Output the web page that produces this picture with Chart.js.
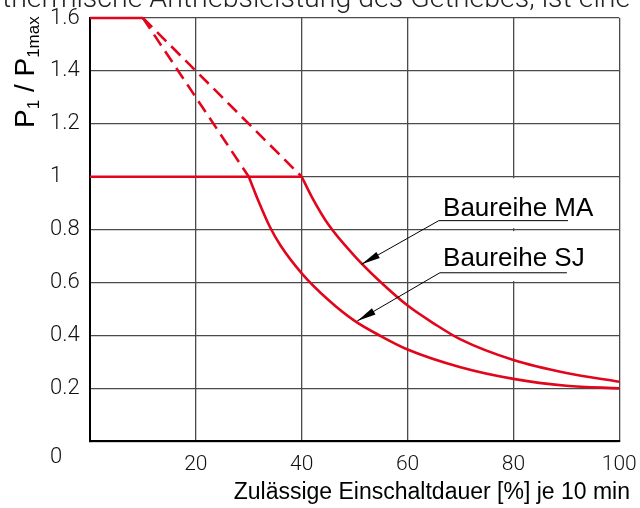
<!DOCTYPE html>
<html lang="de">
<head>
    <meta charset="UTF-8">
    <title>Einschaltdauer</title>
    <script src="https://cdn.jsdelivr.net/npm/chart.js@4/dist/chart.umd.min.js"></script>
    <style>
        html, body {margin: 0;padding: 0;background: #fff;overflow: hidden;}
        #box {position: relative;width: 640px;height: 508px;}
    </style>
    <script>
        // Werte
        const topX = [0, 10];
        const topY = [1.6, 1.6];
        const baseX = [0, 40];
        const baseY = [1.0, 1.0];
        const maDashX = [10, 40];
        const maDashY = [1.6, 1.0];
        const sjDashX = [10, 30];
        const sjDashY = [1.6, 1.0];
        const maX = [40, 42, 45, 50, 55, 60, 65, 70, 80, 90, 100];
        const maY = [1.0, 0.92, 0.82, 0.7, 0.6, 0.513, 0.445, 0.385, 0.307, 0.258, 0.225];
        const sjX = [30, 32, 34, 36, 40, 45, 50, 55, 60, 70, 80, 90, 100];
        const sjY = [1.0, 0.9, 0.81, 0.74, 0.635, 0.535, 0.455, 0.397, 0.347, 0.28, 0.236, 0.21, 0.2];
        const xTicks = [20, 40, 60, 80, 100];
        const yTicks = [0, 0.2, 0.4, 0.6, 0.8, 1, 1.2, 1.4, 1.6];

        const labels = [
            {text: 'Baureihe MA', x: 66.7, y: 0.851, lineY: 0.834, lineX1: 65.9, lineX2: 90.3, tipX: 51.3, tipY: 0.669},
            {text: 'Baureihe SJ', x: 66.7, y: 0.663, lineY: 0.637, lineX1: 66.1, lineX2: 90.1, tipX: 50.5, tipY: 0.455}
        ];

        const RED = '#e2061c';

        function pts(xs, ys) {
            return xs.map((x, i) => ({x: x, y: ys[i]}));
        }

        function ds(xs, ys, dashed) {
            return {
                data: pts(xs, ys),
                borderColor: RED,
                borderWidth: 2.6,
                borderDash: dashed ? [13, 7] : [],
                pointRadius: 0,
                cubicInterpolationMode: 'monotone',
                clip: 5
            };
        }

        // Lücke in der Gitterlinie bei 80 hinter der Beschriftung
        const gapPlugin = {
            id: 'gap',
            beforeDatasetsDraw(chart) {
                const ctx = chart.ctx, xs = chart.scales.x, ys = chart.scales.y;
                const px = xs.getPixelForValue(80);
                ctx.save();
                ctx.fillStyle = '#fff';
                const a = ys.getPixelForValue(1.0), b = ys.getPixelForValue(0.8), c = ys.getPixelForValue(0.6);
                ctx.fillRect(px - 2, a + 1.5, 4, b - a - 3);
                ctx.fillRect(px - 2, b + 1.5, 4, c - b - 3);
                ctx.restore();
            }
        };

        const textPlugin = {
            id: 'texts',
            afterDraw(chart) {
                const ctx = chart.ctx, xs = chart.scales.x, ys = chart.scales.y;
                ctx.save();

                // Beschriftungen mit Pfeilen
                labels.forEach(l => {
                    const x1 = xs.getPixelForValue(l.lineX1), x2 = xs.getPixelForValue(l.lineX2);
                    const ly = ys.getPixelForValue(l.lineY);
                    const tx = xs.getPixelForValue(l.tipX), ty = ys.getPixelForValue(l.tipY);
                    ctx.strokeStyle = '#000';
                    ctx.lineWidth = 1;
                    ctx.beginPath();
                    ctx.moveTo(x2, ly);
                    ctx.lineTo(x1, ly);
                    ctx.lineTo(tx, ty);
                    ctx.stroke();
                    const ang = Math.atan2(ly - ty, x1 - tx);
                    const len = 19, w = 3.5;
                    const bx = tx + Math.cos(ang) * len, by = ty + Math.sin(ang) * len;
                    ctx.fillStyle = '#000';
                    ctx.beginPath();
                    ctx.moveTo(tx, ty);
                    ctx.lineTo(bx - Math.sin(ang) * w, by + Math.cos(ang) * w);
                    ctx.lineTo(bx + Math.sin(ang) * w, by - Math.cos(ang) * w);
                    ctx.closePath();
                    ctx.fill();
                    ctx.font = '26px "Liberation Sans", Arial, sans-serif';
                    ctx.textAlign = 'left';
                    ctx.textBaseline = 'alphabetic';
                    ctx.fillText(l.text, xs.getPixelForValue(l.x), ys.getPixelForValue(l.y));
                });

                // x-Achsentitel
                ctx.fillStyle = '#000';
                ctx.font = '23px "Liberation Sans", Arial, sans-serif';
                ctx.textAlign = 'right';
                ctx.fillText('Zulässige Einschaltdauer [%] je 10 min', 630, 499);

                // abgeschnittene Zeile darüber
                ctx.font = '300 28.5px Roboto, sans-serif';
                ctx.textAlign = 'left';
                ctx.fillStyle = '#222';
                ctx.fillText('thermische Antriebsleistung des Getriebes, ist eine', 2, 7);

                // y-Achsentitel P1 / P1max
                ctx.translate(34, 128);
                ctx.rotate(-Math.PI / 2);
                ctx.fillStyle = '#000';
                ctx.textAlign = 'left';
                const big = '28px "Liberation Sans", Arial, sans-serif';
                const small = '17px "Liberation Sans", Arial, sans-serif';
                let pos = 0;
                [['P', big, 0], ['1', small, 5], [' / ', big, 0], ['P', big, 0], ['1max', small, 5]].forEach(p => {
                    ctx.font = p[1];
                    ctx.fillText(p[0], pos, p[2]);
                    pos += ctx.measureText(p[0]).width;
                });
                ctx.restore();
            }
        };

        window.addEventListener('load', () => {
            new Chart(document.getElementById('c'), {
                type: 'line',
                data: {
                    datasets: [
                        ds(topX, topY, false),
                        ds(baseX, baseY, false),
                        ds(maDashX, maDashY, true),
                        ds(sjDashX, sjDashY, true),
                        ds(maX, maY, false),
                        ds(sjX, sjY, false)
                    ]
                },
                options: {
                    responsive: true,
                    maintainAspectRatio: false,
                    animation: false,
                    events: [],
                    layout: {padding: {left: 50, top: 18, right: 20.7, bottom: 0}},
                    plugins: {legend: {display: false}, tooltip: {enabled: false}},
                    scales: {
                        x: {
                            type: 'linear',
                            min: 0, max: 100,
                            afterBuildTicks: s => { s.ticks = [0].concat(xTicks).map(v => ({value: v})); },
                            afterFit: s => { s.height = 66.7; s.paddingLeft = 0; s.paddingRight = 0; },
                            grid: {color: '#4a4a4a', lineWidth: 1.3, drawTicks: false},
                            border: {color: '#000', width: 2},
                            ticks: {
                                padding: 11,
                                autoSkip: false,
                                color: '#111',
                                font: {family: 'Roboto', weight: 300, size: 21, lineHeight: 1.2},
                                maxRotation: 0,
                                callback: v => v === 0 ? '' : String(v)
                            }
                        },
                        y: {
                            min: 0, max: 1.6,
                            afterBuildTicks: s => { s.ticks = yTicks.map(v => ({value: v})); },
                            afterFit: s => { s.width = 40; s.paddingTop = 0; s.paddingBottom = 0; },
                            grid: {color: '#4a4a4a', lineWidth: 1.3, drawTicks: false},
                            border: {color: '#000', width: 2},
                            ticks: {
                                crossAlign: 'far',
                                autoSkip: false,
                                color: '#111',
                                font: {family: 'Roboto', weight: 300, size: 22, lineHeight: 1.5},
                                callback: v => v === 0 ? ['', '0'] : String(Number(v.toFixed(1)))
                            }
                        }
                    }
                },
                plugins: [gapPlugin, textPlugin]
            });
        });
    </script>
</head>
<body>
<div id="box"><canvas id="c"></canvas></div>
</body>
</html>
